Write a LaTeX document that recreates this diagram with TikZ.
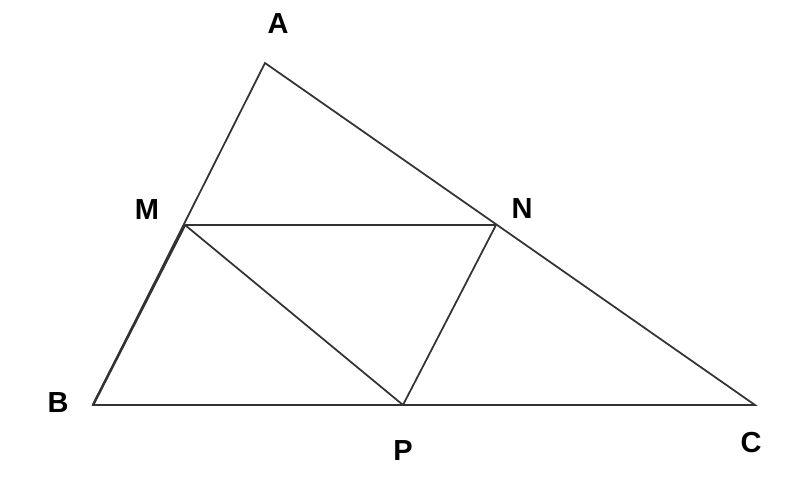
\documentclass[tikz,border=0pt]{standalone}
\usepackage{fontspec}
\setmainfont{Liberation Sans}
\usepackage{xcolor}

\begin{document}
\begin{tikzpicture}
        % Define styles
        \tikzset{
            side/.style={draw=black!80, line width=1pt, line join=miter},
            vertex/.style={font=\fontsize{16.5}{18}\selectfont\bfseries, inner sep=0pt}
        }
        \useasboundingbox (0,0) rectangle (16,9.88);

        % Points
        \coordinate (A) at (5.30,8.62);
        \coordinate (B) at (1.86,1.78);
        \coordinate (C) at (15.10,1.78);
        \coordinate (M) at (3.70,5.38);
        \coordinate (N) at (9.92,5.38);
        \coordinate (P) at (8.06,1.78);

        % Labels
        \node[vertex] (label_A) at (5.56,9.40) {A};
        \node[vertex] (label_M) at (2.94,5.68) {M};
        \node[vertex] (label_N) at (10.44,5.70) {N};
        \node[vertex] (label_B) at (1.16,1.82) {B};
        \node[vertex] (label_P) at (8.06,0.86) {P};
        \node[vertex] (label_C) at (15.02,1.02) {C};

        % Lines
        \draw[side] (A) -- (B) -- (C) -- cycle;
        \draw[side, line width=1.4pt] (B) -- (M);
        \draw[side] (M) -- (N);
        \draw[side] (M) -- (P);
        \draw[side] (N) -- (P);
    \end{tikzpicture}
\end{document}
